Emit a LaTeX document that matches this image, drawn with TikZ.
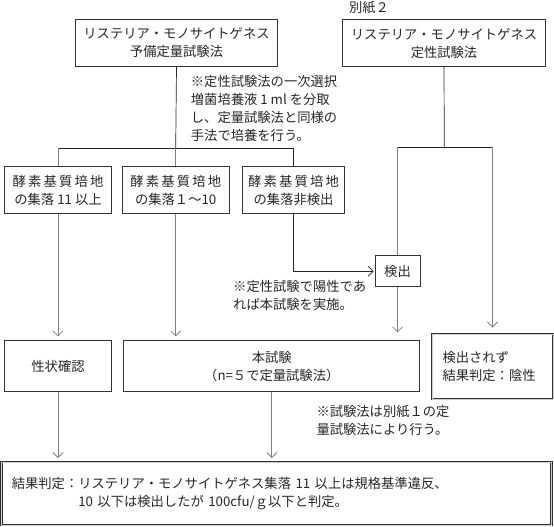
\documentclass[tikz,border=0pt]{standalone}
\usepackage{fontspec}
\setmainfont{Noto Sans CJK JP}
\usetikzlibrary{arrows.meta}

\begin{document}
\begin{tikzpicture}[x=1pt, y=-1pt,
		every node/.style={font=\fontsize{13.3}{18}\selectfont, text=black!85},
		box/.style={draw=black!80, line width=0.8pt, align=center, inner sep=0pt},
		dbox/.style={draw=black!80, double=black!20, double distance=0.9pt, line width=0.9pt, align=left, inner sep=0pt},
		note/.style={align=left, inner sep=0pt, anchor=north west},
		link/.style={draw=black!85, line width=0.7pt},
		glink/.style={draw=black!50, line width=0.8pt},
		arr/.style={-{Straight Barb[length=5pt, width=10pt]}}]
		\useasboundingbox (0, 0) rectangle (554, 527);
		
		\node (bessi) at (369, 8) {別紙２};
		\node[box, minimum width=202pt, minimum height=47pt] (yobi) at (176.5, 43) {リステリア・モノサイトゲネス\\予備定量試験法};
		\node[box, minimum width=203pt, minimum height=47pt] (teisei) at (444, 43.3) {リステリア・モノサイトゲネス\\定性試験法};
		\coordinate (jl) at (175.7, 148);
		\coordinate (jr) at (444.3, 147);
		
		\node[note] (note1) at (190.7, 75) {※定性試験法の一次選択\\増菌培養液 1 ml を分取\\し、定量試験法と同様の\\手法で培養を行う。};
		
		% colony counts on the enzyme substrate medium
		\node[box, minimum width=107pt, minimum height=47pt] (boxa) at (58, 190.3) {酵\,素\,基\,質\,培\,地\\の集落 11 以上};
		\node[box, minimum width=107pt, minimum height=47pt] (boxb) at (175.7, 190.3) {酵\,素\,基\,質\,培\,地\\の集落１～10};
		\node[box, minimum width=102pt, minimum height=47pt] (boxc) at (293.5, 190.3) {酵\,素\,基\,質\,培\,地\\の集落非検出};
		\node[box, minimum width=45pt, minimum height=31pt] (kenshutsu) at (397.5, 271.3) {検出};
		\node[note] (note2) at (233, 280.6) {※定性試験で陽性であ\\れば本試験を実施。};
		
		\node[box, minimum width=107pt, minimum height=51pt] (seijo) at (58, 366.3) {性状確認};
		\node[box, minimum width=296pt, minimum height=51pt] (honshiken) at (271.8, 366.3) {本試験\\（n=５で定量試験法）};
		\node[dbox, minimum width=121pt, minimum height=65pt, text width=100pt] (sarezu) at (492.5, 366.5) {検出されず\\結果判定：陰性};
		\node[note] (note3) at (316.3, 405) {※試験法は別紙１の定\\量試験法により行う。};
		
		\node[dbox, minimum width=550pt, minimum height=63pt, text width=530pt] (kekka) at (276.8, 493.5) {結果判定：リステリア・モノサイトゲネス集落 11 以上は規格基準違反、\\\hspace*{5em}10 以下は検出したが 100cfu/ｇ以下と判定。};
		
		% connectors
		\draw[link] (yobi.south) -- (jl);
		\draw[link] (boxa.north |- jl) -- (boxc.north |- jl) -- (boxc.north);
		\draw[glink] (boxa.north |- jl) -- (boxa.north);
		\draw[glink] (jl) -- (boxb.north);
		\draw[link] (teisei.south) -- (jr);
		\draw[link] (kenshutsu.north |- jr) -- (sarezu.north |- jr);
		\draw[glink] (kenshutsu.north |- jr) -- (kenshutsu.north);
		\draw[glink, arr, shorten >=6pt] (sarezu.north |- jr) -- (sarezu.north);
		\draw[link, arr, shorten >=1pt] (boxc.south) |- (kenshutsu.west);
		\draw[glink, arr, shorten >=8pt] (kenshutsu.south) -- (kenshutsu.south |- honshiken.north);
		\draw[glink, arr, shorten >=4pt] (boxa.south) -- (seijo.north);
		\draw[glink, arr, shorten >=4pt] (boxb.south) -- (boxb.south |- honshiken.north);
		\draw[glink, arr, shorten >=3.5pt] (seijo.south) -- (seijo.south |- kekka.north);
		\draw[glink, arr, shorten >=3.5pt] (honshiken.south) -- (honshiken.south |- kekka.north);
	\end{tikzpicture}
\end{document}
